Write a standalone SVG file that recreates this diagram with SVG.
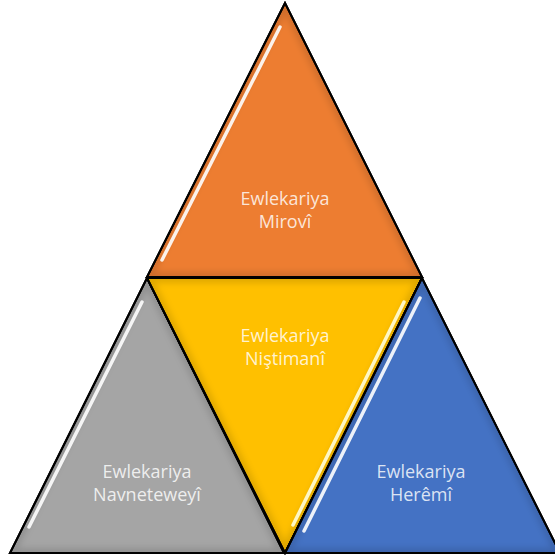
<svg xmlns="http://www.w3.org/2000/svg" width="555" height="555" viewBox="0 0 555 555">
  <style>
    .tri { stroke: #000; stroke-width: 2; stroke-linejoin: miter; }
    .shade { fill: none; stroke: #000; stroke-opacity: 0.12; stroke-width: 10; filter: url(#blur); }
    .hl { fill: none; stroke-width: 3.5; stroke-linecap: round; filter: url(#soft); }
    .lbl { font-family: "Open Sans", "Liberation Sans", sans-serif; font-size: 18px; fill: #fff; fill-opacity: 0.82; text-anchor: middle; }
  </style>
  <defs>
    <filter id="blur" x="-10%" y="-10%" width="120%" height="120%"><feGaussianBlur stdDeviation="3"/></filter>
    <filter id="soft" x="-10%" y="-10%" width="120%" height="120%"><feGaussianBlur stdDeviation="0.7"/></filter>
    <clipPath id="cOrange"><polygon points="285,3 147,277 422,277"/></clipPath>
    <clipPath id="cGray"><polygon points="147,278 10,553 284,553"/></clipPath>
    <clipPath id="cYellow"><polygon points="147,278 422,278 285,553"/></clipPath>
    <clipPath id="cBlue"><polygon points="422,278 285,553 560,553"/></clipPath>
  </defs>
  <rect width="555" height="555" fill="#fff"/>

  <g id="node-mirovi">
    <polygon class="tri" points="285,3 147,277 422,277" fill="#ED7D31"/>
    <polygon class="shade" points="285,3 147,277 422,277" clip-path="url(#cOrange)"/>
    <line class="hl" x1="280" y1="27" x2="162" y2="260" stroke="#fff" stroke-opacity="0.9"/>
    <polygon class="tri" points="285,3 147,277 422,277" fill="none"/>
    <text class="lbl" x="285" y="205">Ewlekariya</text>
    <text class="lbl" x="285" y="228">Mirovî</text>
  </g>

  <g id="node-navneteweyi">
    <polygon class="tri" points="147,278 10,553 284,553" fill="#A5A5A5"/>
    <polygon class="shade" points="147,278 10,553 284,553" clip-path="url(#cGray)"/>
    <line class="hl" x1="142" y1="302" x2="29" y2="527" stroke="#fff" stroke-opacity="0.9"/>
    <polygon class="tri" points="147,278 10,553 284,553" fill="none"/>
    <text class="lbl" x="147" y="478">Ewlekariya</text>
    <text class="lbl" x="147" y="501">Navneteweyî</text>
  </g>

  <g id="node-nistimani">
    <polygon class="tri" points="147,278 422,278 285,553" fill="#FFC000"/>
    <polygon class="shade" points="147,278 422,278 285,553" clip-path="url(#cYellow)"/>
    <line class="hl" x1="404" y1="302" x2="293" y2="525" stroke="#FFFBD0" stroke-opacity="0.95"/>
    <polygon class="tri" points="147,278 422,278 285,553" fill="none"/>
    <text class="lbl" x="285" y="342">Ewlekariya</text>
    <text class="lbl" x="285" y="365">Niştimanî</text>
  </g>

  <g id="node-heremi">
    <polygon class="tri" points="422,278 285,553 560,553" fill="#4472C4"/>
    <polygon class="shade" points="422,278 285,553 560,553" clip-path="url(#cBlue)"/>
    <line class="hl" x1="420" y1="298" x2="304" y2="531" stroke="#fff" stroke-opacity="0.9"/>
    <polygon class="tri" points="422,278 285,553 560,553" fill="none"/>
    <text class="lbl" x="421" y="478">Ewlekariya</text>
    <text class="lbl" x="421" y="501">Herêmî</text>
  </g>

  <g id="connectors"/>
</svg>
